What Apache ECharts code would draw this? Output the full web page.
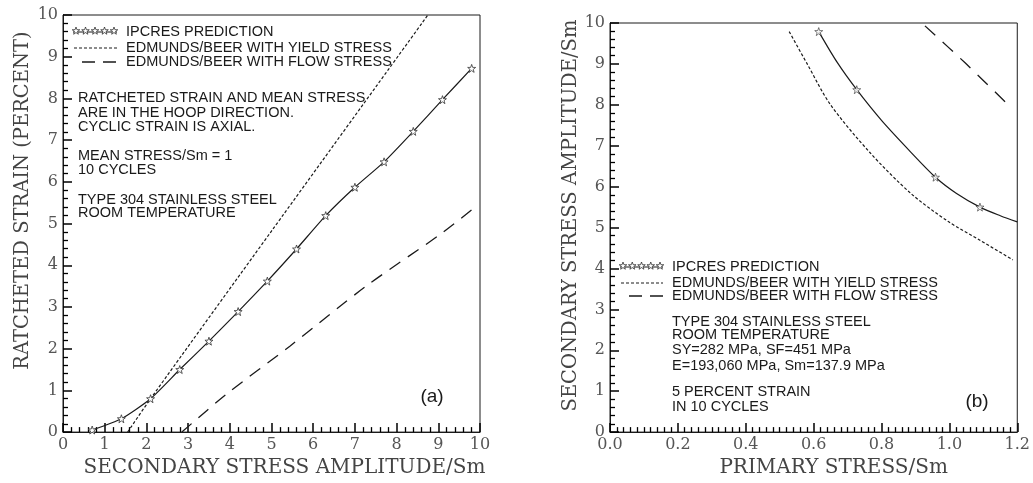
<!DOCTYPE html>
<html>
<head>
<meta charset="utf-8">
<script src="https://cdn.jsdelivr.net/npm/echarts@6/dist/echarts.min.js"></script>
<style>
html,body{margin:0;padding:0;background:#fff;}
#chart{width:1033px;height:483px;}
</style>
</head>
<body>
<div id="chart"></div>
<script>
// ---------- Panel (a) data ----------
const ipcresA_x = [0.7, 1.4, 2.1, 2.8, 3.5, 4.2, 4.9, 5.6, 6.3, 7.0, 7.7, 8.4, 9.1, 9.8];
const ipcresA_y = [0.05, 0.32, 0.80, 1.50, 2.18, 2.89, 3.62, 4.39, 5.19, 5.87, 6.48, 7.21, 7.97, 8.72];
const yieldA_x = [1.55, 2.1, 5.0, 8.75];
const yieldA_y = [0.0, 0.8, 4.82, 10.0];
const flowA_x = [2.85, 3.92, 5.44, 7.27, 9.1, 9.95];
const flowA_y = [0.0, 0.91, 2.06, 3.5, 4.78, 5.45];

// ---------- Panel (b) data ----------
const ipcresB_x = [0.615, 0.67, 0.727, 0.80, 0.88, 0.959, 1.02, 1.09, 1.15, 1.2];
const ipcresB_y = [9.79, 9.03, 8.37, 7.62, 6.90, 6.23, 5.84, 5.50, 5.29, 5.14];
const ipcresB_markX = [0.615, 0.727, 0.959, 1.09];
const ipcresB_markY = [9.79, 8.37, 6.23, 5.50];
const yieldB_x = [0.528, 0.581, 0.649, 0.765, 0.887, 0.998, 1.09, 1.187];
const yieldB_y = [9.79, 9.0, 8.01, 6.84, 5.83, 5.14, 4.69, 4.21];
const flowB_x = [0.928, 1.047, 1.172];
const flowB_y = [9.93, 9.02, 8.01];

// ---------- Tick labels / texts ----------
const xTicksA = [0,1,2,3,4,5,6,7,8,9,10];
const yTicksA = [0,1,2,3,4,5,6,7,8,9,10];
const xTicksB = ['0.0','0.2','0.4','0.6','0.8','1.0','1.2'];
const yTicksB = [0,1,2,3,4,5,6,7,8,9,10];
const legendNames = ['IPCRES PREDICTION', 'EDMUNDS/BEER WITH YIELD STRESS', 'EDMUNDS/BEER WITH FLOW STRESS'];
const notesA = ['RATCHETED STRAIN AND MEAN STRESS', 'ARE IN THE HOOP DIRECTION.', 'CYCLIC STRAIN IS AXIAL.',
                'MEAN STRESS/Sm = 1', '10 CYCLES', 'TYPE 304 STAINLESS STEEL', 'ROOM TEMPERATURE'];
const notesB = ['TYPE 304 STAINLESS STEEL', 'ROOM TEMPERATURE', 'SY=282 MPa, SF=451 MPa',
                'E=193,060 MPa, Sm=137.9 MPa', '5 PERCENT STRAIN', 'IN 10 CYCLES'];
const panelTags = ['(a)', '(b)'];
const axisTitles = ['SECONDARY STRESS AMPLITUDE/Sm', 'RATCHETED STRAIN (PERCENT)',
                    'PRIMARY STRESS/Sm', 'SECONDARY STRESS AMPLITUDE/Sm'];

// ---------- helpers ----------
const zip = (xs, ys) => xs.map((x, i) => [x, ys[i]]);
const STAR = 'path://M0,-10 L2.35,-3.24 L9.51,-3.09 L3.80,1.24 L5.88,8.09 L0,4 L-5.88,8.09 L-3.80,1.24 L-9.51,-3.09 L-2.35,-3.24 Z';
const SERIF = '"DejaVu Serif", "Liberation Serif", serif';
const SANS = '"Liberation Sans", Arial, sans-serif';
const INK = '#1a1a1a';
const TICK = '#000000';
const TXT = 14.5;

function starPoints(cx, cy, r) {
  const pts = [];
  for (let k = 0; k < 10; k++) {
    const ang = -Math.PI / 2 + k * Math.PI / 5;
    const rr = k % 2 === 0 ? r : r * 0.4;
    pts.push([cx + rr * Math.cos(ang), cy + rr * Math.sin(ang)]);
  }
  return pts;
}

function textEl(x, y, s, size, family, align) {
  return { type: 'text', x: x, y: y, z: 10,
    style: { text: s, x: 0, y: 0, fill: INK, font: size + 'px ' + family,
             textAlign: align || 'left', textVerticalAlign: 'middle', align: align || 'left', verticalAlign: 'middle' } };
}

function legendBlock(x0, x1, ys, tx) {
  const els = [];
  els.push({ type: 'line', z: 10, shape: { x1: x0, y1: ys[0], x2: x1, y2: ys[0] }, style: { stroke: INK, lineWidth: 1 } });
  for (let k = 0; k < 5; k++) {
    const cx = x0 + 3 + k * (x1 - x0 - 6) / 4;
    els.push({ type: 'polygon', z: 11, shape: { points: starPoints(cx, ys[0] - 1, 4) }, style: { fill: '#fff', stroke: INK, lineWidth: 0.7 } });
  }
  els.push({ type: 'line', z: 10, shape: { x1: x0 + 1, y1: ys[1], x2: x1, y2: ys[1] }, style: { stroke: INK, lineWidth: 1.1, lineDash: [3, 2] } });
  els.push({ type: 'line', z: 10, shape: { x1: x0 + 9, y1: ys[2], x2: x1, y2: ys[2] }, style: { stroke: INK, lineWidth: 1.3, lineDash: [13, 8] } });
  for (let i = 0; i < 3; i++) els.push(textEl(tx, ys[i], legendNames[i], TXT, SANS));
  return els;
}

const graphics = [];
graphics.push(...legendBlock(73, 117, [32, 48, 62], 126));
const notesAy = [98, 113, 127, 156, 170, 200, 213];
notesA.forEach((s, i) => graphics.push(textEl(78, notesAy[i], s, TXT, SANS)));
graphics.push(textEl(432, 397, panelTags[0], 19, SANS, 'center'));

graphics.push(...legendBlock(620, 663, [267, 283, 296], 672));
const notesBy = [322, 335, 350, 366, 392, 407];
notesB.forEach((s, i) => graphics.push(textEl(672, notesBy[i], s, TXT, SANS)));
graphics.push(textEl(977, 402, panelTags[1], 19, SANS, 'center'));

// ---------- axes (major ticks from the axis, minor ticks from minorTick) ----------
function xAxisCfg(gridIndex, min, max, interval, minorSplit, labels, name, namePad) {
  return {
    type: 'value', gridIndex, min, max, interval, position: 'bottom',
    axisLine: { show: true, onZero: false, lineStyle: { color: INK, width: 1 } },
    axisTick: { show: true, inside: true, length: 9, lineStyle: { color: TICK, width: 1.5 } },
    minorTick: { show: true, splitNumber: minorSplit, length: 5, lineStyle: { color: TICK, width: 1.3 } },
    splitLine: { show: false }, minorSplitLine: { show: false },
    axisLabel: { margin: 5, color: '#555', fontFamily: SERIF, fontSize: 16,
      formatter: (v) => { const idx = Math.round((v - min) / interval); return labels[idx] !== undefined ? String(labels[idx]) : ''; } },
    name, nameLocation: 'middle', nameGap: 21,
    nameTextStyle: { color: '#444', fontFamily: SERIF, fontSize: 20, padding: [0, 0, 0, namePad] }
  };
}
function yAxisCfg(gridIndex, labels, name, nameGap, namePad) {
  return {
    type: 'value', gridIndex, min: 0, max: 10, interval: 1, position: 'left',
    axisLine: { show: true, onZero: false, lineStyle: { color: INK, width: 1 } },
    axisTick: { show: true, inside: true, length: 9, lineStyle: { color: TICK, width: 1.5 } },
    minorTick: { show: true, splitNumber: 5, length: 5, lineStyle: { color: TICK, width: 1.3 } },
    splitLine: { show: false }, minorSplitLine: { show: false },
    axisLabel: { margin: 5, color: '#555', fontFamily: SERIF, fontSize: 16,
      formatter: (v) => String(labels[Math.round(v)]) },
    name, nameLocation: 'middle', nameGap,
    nameTextStyle: { color: '#444', fontFamily: SERIF, fontSize: 19.5, padding: [0, 0, 0, namePad] }
  };
}

const option = {
  animation: false,
  grid: [
    { left: 63, top: 15, right: 553, bottom: 50, show: true, borderColor: INK, borderWidth: 1, z: 0 },
    { left: 610, top: 23, right: 10, bottom: 48, show: true, borderColor: INK, borderWidth: 1, z: 0 }
  ],
  xAxis: [
    xAxisCfg(0, 0, 10, 1, 5, xTicksA, axisTitles[0], 26),
    xAxisCfg(1, 0, 1.2, 0.2, 10, xTicksB, axisTitles[2], 40)
  ],
  yAxis: [
    yAxisCfg(0, yTicksA, axisTitles[1], 30, 46),
    yAxisCfg(1, yTicksB, axisTitles[3], 27, 24)
  ],
  series: [
    { type: 'line', xAxisIndex: 0, yAxisIndex: 0, data: zip(ipcresA_x, ipcresA_y), smooth: 0.2,
      symbol: STAR, symbolSize: 8, showSymbol: true,
      itemStyle: { color: '#fff', borderColor: '#333', borderWidth: 0.8 },
      lineStyle: { color: INK, width: 1.2 }, z: 3 },
    { type: 'line', xAxisIndex: 0, yAxisIndex: 0, data: zip(yieldA_x, yieldA_y), smooth: 0.3, symbol: 'none',
      lineStyle: { color: INK, width: 1.2, type: [3, 2] }, z: 2 },
    { type: 'line', xAxisIndex: 0, yAxisIndex: 0, data: zip(flowA_x, flowA_y), smooth: 0.3, symbol: 'none',
      lineStyle: { color: INK, width: 1.3, type: [13, 9] }, z: 2 },

    { type: 'line', xAxisIndex: 1, yAxisIndex: 1, data: zip(ipcresB_x, ipcresB_y), smooth: 0.3, symbol: 'none',
      lineStyle: { color: INK, width: 1.2 }, z: 3 },
    { type: 'scatter', xAxisIndex: 1, yAxisIndex: 1, data: zip(ipcresB_markX, ipcresB_markY),
      symbol: STAR, symbolSize: 8, itemStyle: { color: '#fff', borderColor: '#333', borderWidth: 0.8 }, z: 4 },
    { type: 'line', xAxisIndex: 1, yAxisIndex: 1, data: zip(yieldB_x, yieldB_y), smooth: 0.3, symbol: 'none',
      lineStyle: { color: INK, width: 1.2, type: [3, 2] }, z: 2 },
    { type: 'line', xAxisIndex: 1, yAxisIndex: 1, data: zip(flowB_x, flowB_y), smooth: 0.3, symbol: 'none',
      lineStyle: { color: INK, width: 1.3, type: [14, 10] }, z: 2 }
  ],
  graphic: graphics
};

const chart = echarts.init(document.getElementById('chart'), null, { renderer: 'canvas' });
chart.setOption(option);
</script>
</body>
</html>
